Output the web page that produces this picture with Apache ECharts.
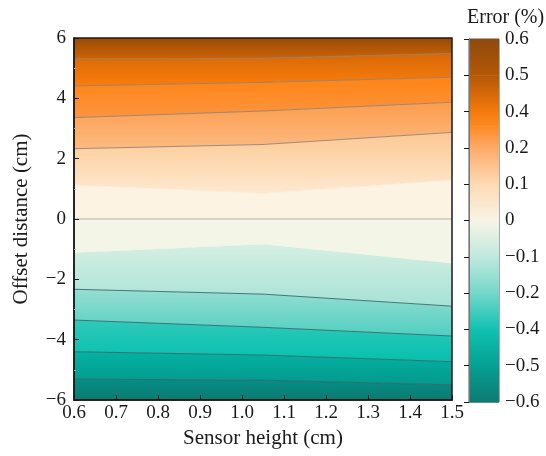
<!DOCTYPE html>
<html>
<head>
<meta charset="utf-8">
<script src="https://cdn.jsdelivr.net/npm/echarts@6/dist/echarts.min.js"></script>
<style>html,body{margin:0;padding:0;background:#fff}#c{width:546px;height:456px}</style>
</head>
<body>
<div id="c"></div>
<script>
// Sensor heights where the contour boundaries were read (cm)
var heights = [0.6, 1.05, 1.5];
// Contour level boundaries (offset distance, cm) at each height, bottom to top
var levelNames = ['-0.6', '-0.5', '-0.4', '-0.3', '-0.2', '-0.1', '0', '0.1', '0.2', '0.3', '0.4', '0.5', '0.6'];
var levelOffsets = [
  [-6, -6, -6],
  [-5.31, -5.34, -5.50],
  [-4.40, -4.51, -4.73],
  [-3.35, -3.59, -3.88],
  [-2.33, -2.49, -2.89],
  [-1.12, -0.84, -1.47],
  [0, 0, 0],
  [1.13, 0.85, 1.29],
  [2.33, 2.47, 2.87],
  [3.36, 3.58, 3.87],
  [4.41, 4.53, 4.70],
  [5.31, 5.33, 5.49],
  [6, 6, 6]
];
// Levels drawn as contour lines
var contourLevels = ['-0.5', '-0.4', '-0.3', '-0.2', '0.2', '0.3', '0.4', '0.5'];
// Colour bar tick labels (evenly spaced on the bar)
var cbLabels = ['\u22120.6', '\u22120.5', '\u22120.4', '\u22120.2', '\u22120.1', '0', '0.1', '0.2', '0.4', '0.5', '0.6'];

// Styles (band colours low->high)
var bandColors = [
  ['#0b7a72', '#068f84'],
  ['#039a8d', '#04b2a3'],
  ['#05c0ae', '#30c9b9'],
  ['#50cfc0', '#97ded2'],
  ['#a6e2d6', '#d6efe3'],
  ['#f3f5e6', '#f3f5e6'],
  ['#fdf3e2', '#fdf3e2'],
  ['#fde9d0', '#fdc892'],
  ['#fcba82', '#fd9c4c'],
  ['#fd9440', '#fe8414'],
  ['#fb7d0c', '#d66807'],
  ['#cd6307', '#974b05']
];
var cbColors = [
  [0, '#0e7a72'], [1, '#05a093'], [2, '#0fc1b1'], [3, '#74d7ca'], [4, '#bfe9de'],
  [5, '#f7f4e6'], [6, '#fedab5'], [7, '#fdab68'], [7.6, '#fe8a22'], [8, '#f47a0c'], [9, '#b55806'], [10, '#8e4a0e']
];

var FONT = 'Liberation Serif';
var chart = echarts.init(document.getElementById('c'), null, {renderer: 'canvas'});

var bandData = [];
for (var i = 0; i < levelOffsets.length - 1; i++) bandData.push([heights[0], i]);

var series = [];
series.push({
  type: 'custom',
  xAxisIndex: 0, yAxisIndex: 0,
  data: bandData,
  encode: {x: 0},
  silent: true,
  clip: true,
  renderItem: function (params, api) {
    var idx = params.dataIndex;
    var lo = levelOffsets[idx], hi = levelOffsets[idx + 1];
    var pts = [];
    for (var k = 0; k < heights.length; k++) pts.push(api.coord([heights[k], lo[k]]));
    for (var k2 = heights.length - 1; k2 >= 0; k2--) pts.push(api.coord([heights[k2], hi[k2]]));
    var c = bandColors[idx];
    return {
      type: 'polygon',
      shape: {points: pts},
      style: {
        fill: new echarts.graphic.LinearGradient(0, 0, 0, 1, [
          {offset: 0, color: c[1]}, {offset: 1, color: c[0]}
        ]),
        stroke: c[0], lineWidth: 0.5
      }
    };
  },
  z: 1
});

contourLevels.forEach(function (lv) {
  var li = levelNames.indexOf(lv);
  var pos = parseFloat(lv) > 0;
  series.push({
    type: 'line',
    xAxisIndex: 0, yAxisIndex: 0,
    data: heights.map(function (h, k) { return [h, levelOffsets[li][k]]; }),
    symbol: 'none', silent: true,
    lineStyle: {color: pos ? 'rgba(140,130,120,0.85)' : 'rgba(60,100,100,0.85)', width: 1},
    z: 3
  });
});
series.push({
  type: 'line', xAxisIndex: 0, yAxisIndex: 0,
  data: heights.map(function (h, k) { return [h, levelOffsets[levelNames.indexOf('0')][k]]; }),
  symbol: 'none', silent: true,
  lineStyle: {color: '#cdc7ba', width: 1.5}, z: 3
});

// colour bar
var cbData = [];
for (var j = 0; j < cbColors.length - 1; j++) cbData.push([0, j]);
series.push({
  type: 'custom', xAxisIndex: 1, yAxisIndex: 1, data: cbData, encode: {x: 0}, silent: true,
  renderItem: function (params, api) {
    var j = params.dataIndex;
    var a = cbColors[j], b = cbColors[j + 1];
    var p0 = api.coord([0, a[0]]), p1 = api.coord([1, b[0]]);
    return {
      type: 'rect',
      shape: {x: p0[0], y: p1[1], width: p1[0] - p0[0], height: p0[1] - p1[1] + 0.5},
      style: {fill: new echarts.graphic.LinearGradient(0, 0, 0, 1, [{offset: 0, color: b[1]}, {offset: 1, color: a[1]}])}
    };
  }, z: 1
});

var labelStyle = {fontFamily: FONT, fontSize: 19, color: '#1a1a1a'};
function minus(v) { return v < 0 ? '\u2212' + Math.abs(v) : String(v); }

chart.setOption({
  animation: false,
  backgroundColor: '#fff',
  title: {text: 'Error (%)', left: 462, top: 3, textStyle: {fontFamily: FONT, fontSize: 20, fontWeight: 'normal', color: '#1a1a1a'}},
  grid: [
    {left: 74, right: 94, top: 38, bottom: 56, show: true, borderColor: '#1a1a1a', borderWidth: 1.5, backgroundColor: 'transparent', z: 5},
    {left: 469, width: 30, top: 39, height: 363, show: true, borderColor: '#555', borderWidth: 1, backgroundColor: 'transparent'}
  ],
  xAxis: [
    {type: 'value', gridIndex: 0, min: 0.6, max: 1.5, interval: 0.1,
     name: 'Sensor height (cm)', nameLocation: 'middle', nameGap: 28,
     nameTextStyle: {fontFamily: FONT, fontSize: 21, color: '#1a1a1a'},
     axisLine: {show: true, onZero: false, lineStyle: {color: '#1a1a1a', width: 1.5}},
     axisTick: {show: true, inside: true, length: 5, lineStyle: {color: '#1a1a1a'}},
     axisLabel: Object.assign({margin: 4, formatter: function (v) { return v.toFixed(1); }}, labelStyle),
     splitLine: {show: false}, z: 6},
    {type: 'value', gridIndex: 1, min: 0, max: 1, show: false}
  ],
  yAxis: [
    {type: 'value', gridIndex: 0, min: -6, max: 6, interval: 2,
     name: 'Offset distance (cm)', nameLocation: 'middle', nameGap: 42, nameRotate: 90,
     nameTextStyle: {fontFamily: FONT, fontSize: 21, color: '#1a1a1a'},
     axisLine: {show: true, onZero: false, lineStyle: {color: '#1a1a1a', width: 1.5}},
     axisTick: {show: true, inside: true, length: 5, lineStyle: {color: '#1a1a1a'}},
     minorTick: {show: true, splitNumber: 2, length: 2, lineStyle: {color: '#aaa'}},
     axisLabel: Object.assign({margin: 8, formatter: minus}, labelStyle),
     splitLine: {show: false}, z: 6},
    {type: 'value', gridIndex: 1, min: 0, max: 10, interval: 1, position: 'right',
     axisLine: {show: true, lineStyle: {color: '#777', width: 1}},
     axisTick: {show: true, inside: true, length: 5, lineStyle: {color: '#1a1a1a'}},
     axisLabel: Object.assign({margin: 6, formatter: function (v) { return cbLabels[Math.round(v)]; }}, labelStyle),
     splitLine: {show: false}, z: 6}
  ],
  series: series
});
</script>
</body>
</html>
